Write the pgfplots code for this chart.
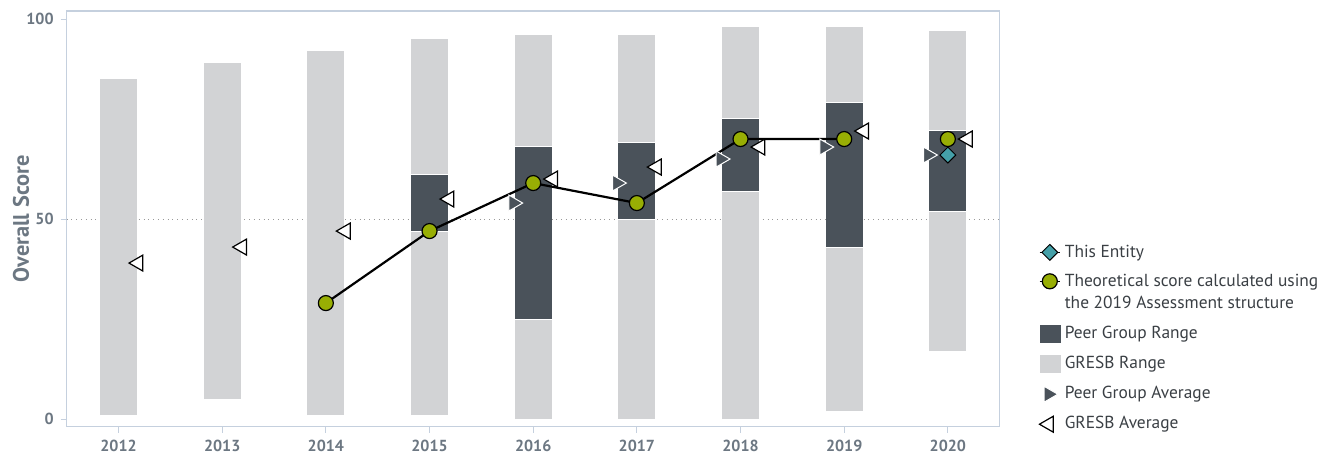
\documentclass[border=0pt]{standalone}
\usepackage{fontspec}
\setmainfont{PT Sans}
\usepackage{pgfplots}
\pgfplotsset{compat=1.18}
\usepackage{pgfplotstable}
\usetikzlibrary{calc}
\definecolor{gresbgray}{HTML}{D2D3D5}
\definecolor{peerdark}{HTML}{4A525A}
\definecolor{greenc}{HTML}{98AE04}
\definecolor{tealc}{HTML}{45A0A8}
\definecolor{ticktext}{HTML}{6C7782}
\definecolor{axisline}{HTML}{C5D0DE}
\definecolor{legtext}{HTML}{3A3F44}

\pgfplotstableread{
x lo hi
0 1 85
1 5 89
2 1 92
3 1 95
4 0 96
5 0 96
6 0 98
7 2 98
8 17 97
}\gresbrange

\pgfplotstableread{
x lo hi
3 47 61
4 25 68
5 50 69
6 57 75
7 43 79
8 52 72
}\peerrange

\pgfplotstableread{
x y
2 29
3 47
4 59
5 54
6 70
7 70
}\theoline

\pgfplotstableread{
x y
8 70
}\theoextra

\pgfplotstableread{
x y
0.19 39
1.19 43
2.19 47
3.19 55
4.19 60
5.19 63
6.19 68
7.19 72
8.19 70
}\gresbavg

\pgfplotstableread{
x y
3.81 54
4.81 59
5.81 65
6.81 68
7.81 66
}\peeravg

\pgfplotstableread{
x y
8 66
}\entity

\pgfplotsset{
  lineleg/.style={legend image code/.code={\draw[mark repeat=2,mark phase=2,##1] plot coordinates {(0cm,0cm) (0.18cm,0cm) (0.36cm,0cm)};}},
  linelegup/.style={legend image code/.code={\draw[mark repeat=2,mark phase=2,##1] plot coordinates {(0cm,6pt) (0.18cm,6pt) (0.36cm,6pt)};}},
  boxleg/.style={legend image code/.code={\fill[##1] (0.01cm,-4.3pt) rectangle (0.36cm,4.3pt);}},
  markleg/.style={legend image code/.code={\draw[##1] plot coordinates {(0.16cm,0cm)};}},
}

\begin{document}
\begin{tikzpicture}
\begin{axis}[
  name=main,
  scale only axis,
  width=466.5pt, height=207.85pt,
  xmin=-0.5, xmax=8.5, ymin=-1.9, ymax=102,
  xtick={0,1,2,3,4,5,6,7,8},
  xticklabels={2012,2013,2014,2015,2016,2017,2018,2019,2020},
  ytick={0,50,100},
  tick pos=left,
  tick align=outside,
  major tick length=3pt,
  tick style={color=axisline, line width=0.5pt},
  axis line style={color=axisline, line width=0.6pt},
  tick label style={font=\bfseries\fontsize{8}{9}\selectfont, text=ticktext},
  /pgf/number format/assume math mode=true,
  ylabel={Overall Score},
  ylabel style={font=\bfseries\fontsize{11.2}{13}\selectfont, text=ticktext, at={(axis description cs:-0.049,0.5)}, anchor=center},
  extra y ticks={50},
  extra y tick labels={},
  extra y tick style={grid=major, major grid style={dotted, color=gray!80, line width=0.5pt}, major tick length=0pt},
  legend style={at={(1.035,0.458)}, anchor=north west, draw=none, fill=none,
    font=\fontsize{8.7}{11}\selectfont, text=legtext, row sep=3.3pt,
    cells={align=left}},
  legend cell align=left,
  clip=false,
]
% legend images
\addlegendimage{lineleg, black, line width=0.8pt, mark=square*, mark size=2.8pt, mark options={rotate=45, fill=tealc, draw=black, line width=0.5pt}}
\addlegendentry{This Entity}
\addlegendimage{linelegup, black, line width=0.8pt, mark=*, mark size=3.75pt, mark options={fill=greenc, draw=black, line width=0.6pt}}
\addlegendentry{Theoretical score calculated using\\the 2019 Assessment structure}
\addlegendimage{boxleg, peerdark}
\addlegendentry{Peer Group Range}
\addlegendimage{boxleg, gresbgray}
\addlegendentry{GRESB Range}
\addlegendimage{markleg, mark=triangle*, mark size=4.6pt, mark options={rotate=-90, fill=peerdark, draw=white, line width=0.5pt}}
\addlegendentry{Peer Group Average}
\addlegendimage{markleg, mark=triangle*, mark size=4.6pt, mark options={rotate=90, fill=white, draw=black, line width=0.6pt}}
\addlegendentry{GRESB Average}

% ranges as thick error bars
\addplot[forget plot, draw=none, mark=none,
  error bars/.cd, y dir=plus, y explicit, error mark=none,
  error bar style={draw=gresbgray, line width=18.5pt, line cap=butt}]
  table[x=x, y=lo, y error expr=\thisrow{hi}-\thisrow{lo}] {\gresbrange};
% thin white separators around peer ranges
\addplot[forget plot, draw=none, mark=none,
  error bars/.cd, y dir=plus, y explicit, error mark=none,
  error bar style={draw=white, line width=18.5pt, line cap=butt}]
  table[x=x, y expr=\thisrow{lo}-0.35, y error expr=\thisrow{hi}-\thisrow{lo}+0.7] {\peerrange};
\addplot[forget plot, draw=none, mark=none,
  error bars/.cd, y dir=plus, y explicit, error mark=none,
  error bar style={draw=peerdark, line width=18.5pt, line cap=butt}]
  table[x=x, y=lo, y error expr=\thisrow{hi}-\thisrow{lo}] {\peerrange};

% theoretical line
\addplot[forget plot, black, line width=1.1pt, mark=none] table[x=x,y=y] {\theoline};

% averages
\addplot[forget plot, only marks, mark=triangle*, mark size=4.6pt, mark options={rotate=-90, fill=peerdark, draw=white, line width=0.5pt}] table[x=x,y=y] {\peeravg};
\addplot[forget plot, only marks, mark=triangle*, mark size=4.6pt, mark options={rotate=90, fill=white, draw=black, line width=0.6pt}] table[x=x,y=y] {\gresbavg};

% theoretical markers
\addplot[forget plot, only marks, mark=*, mark size=3.75pt, mark options={fill=greenc, draw=black, line width=0.6pt}] table[x=x,y=y] {\theoline};
\addplot[forget plot, only marks, mark=*, mark size=3.75pt, mark options={fill=greenc, draw=black, line width=0.6pt}] table[x=x,y=y] {\theoextra};

% this entity
\addplot[forget plot, only marks, mark=square*, mark size=2.8pt, mark options={rotate=45, fill=tealc, draw=black, line width=0.5pt}] table[x=x,y=y] {\entity};
\end{axis}
\pgfresetboundingbox
\path[use as bounding box] ([shift={(-33.35pt,-15.15pt)}]main.south west) rectangle ++(665.5pt,228.5pt);
\end{tikzpicture}
\end{document}
